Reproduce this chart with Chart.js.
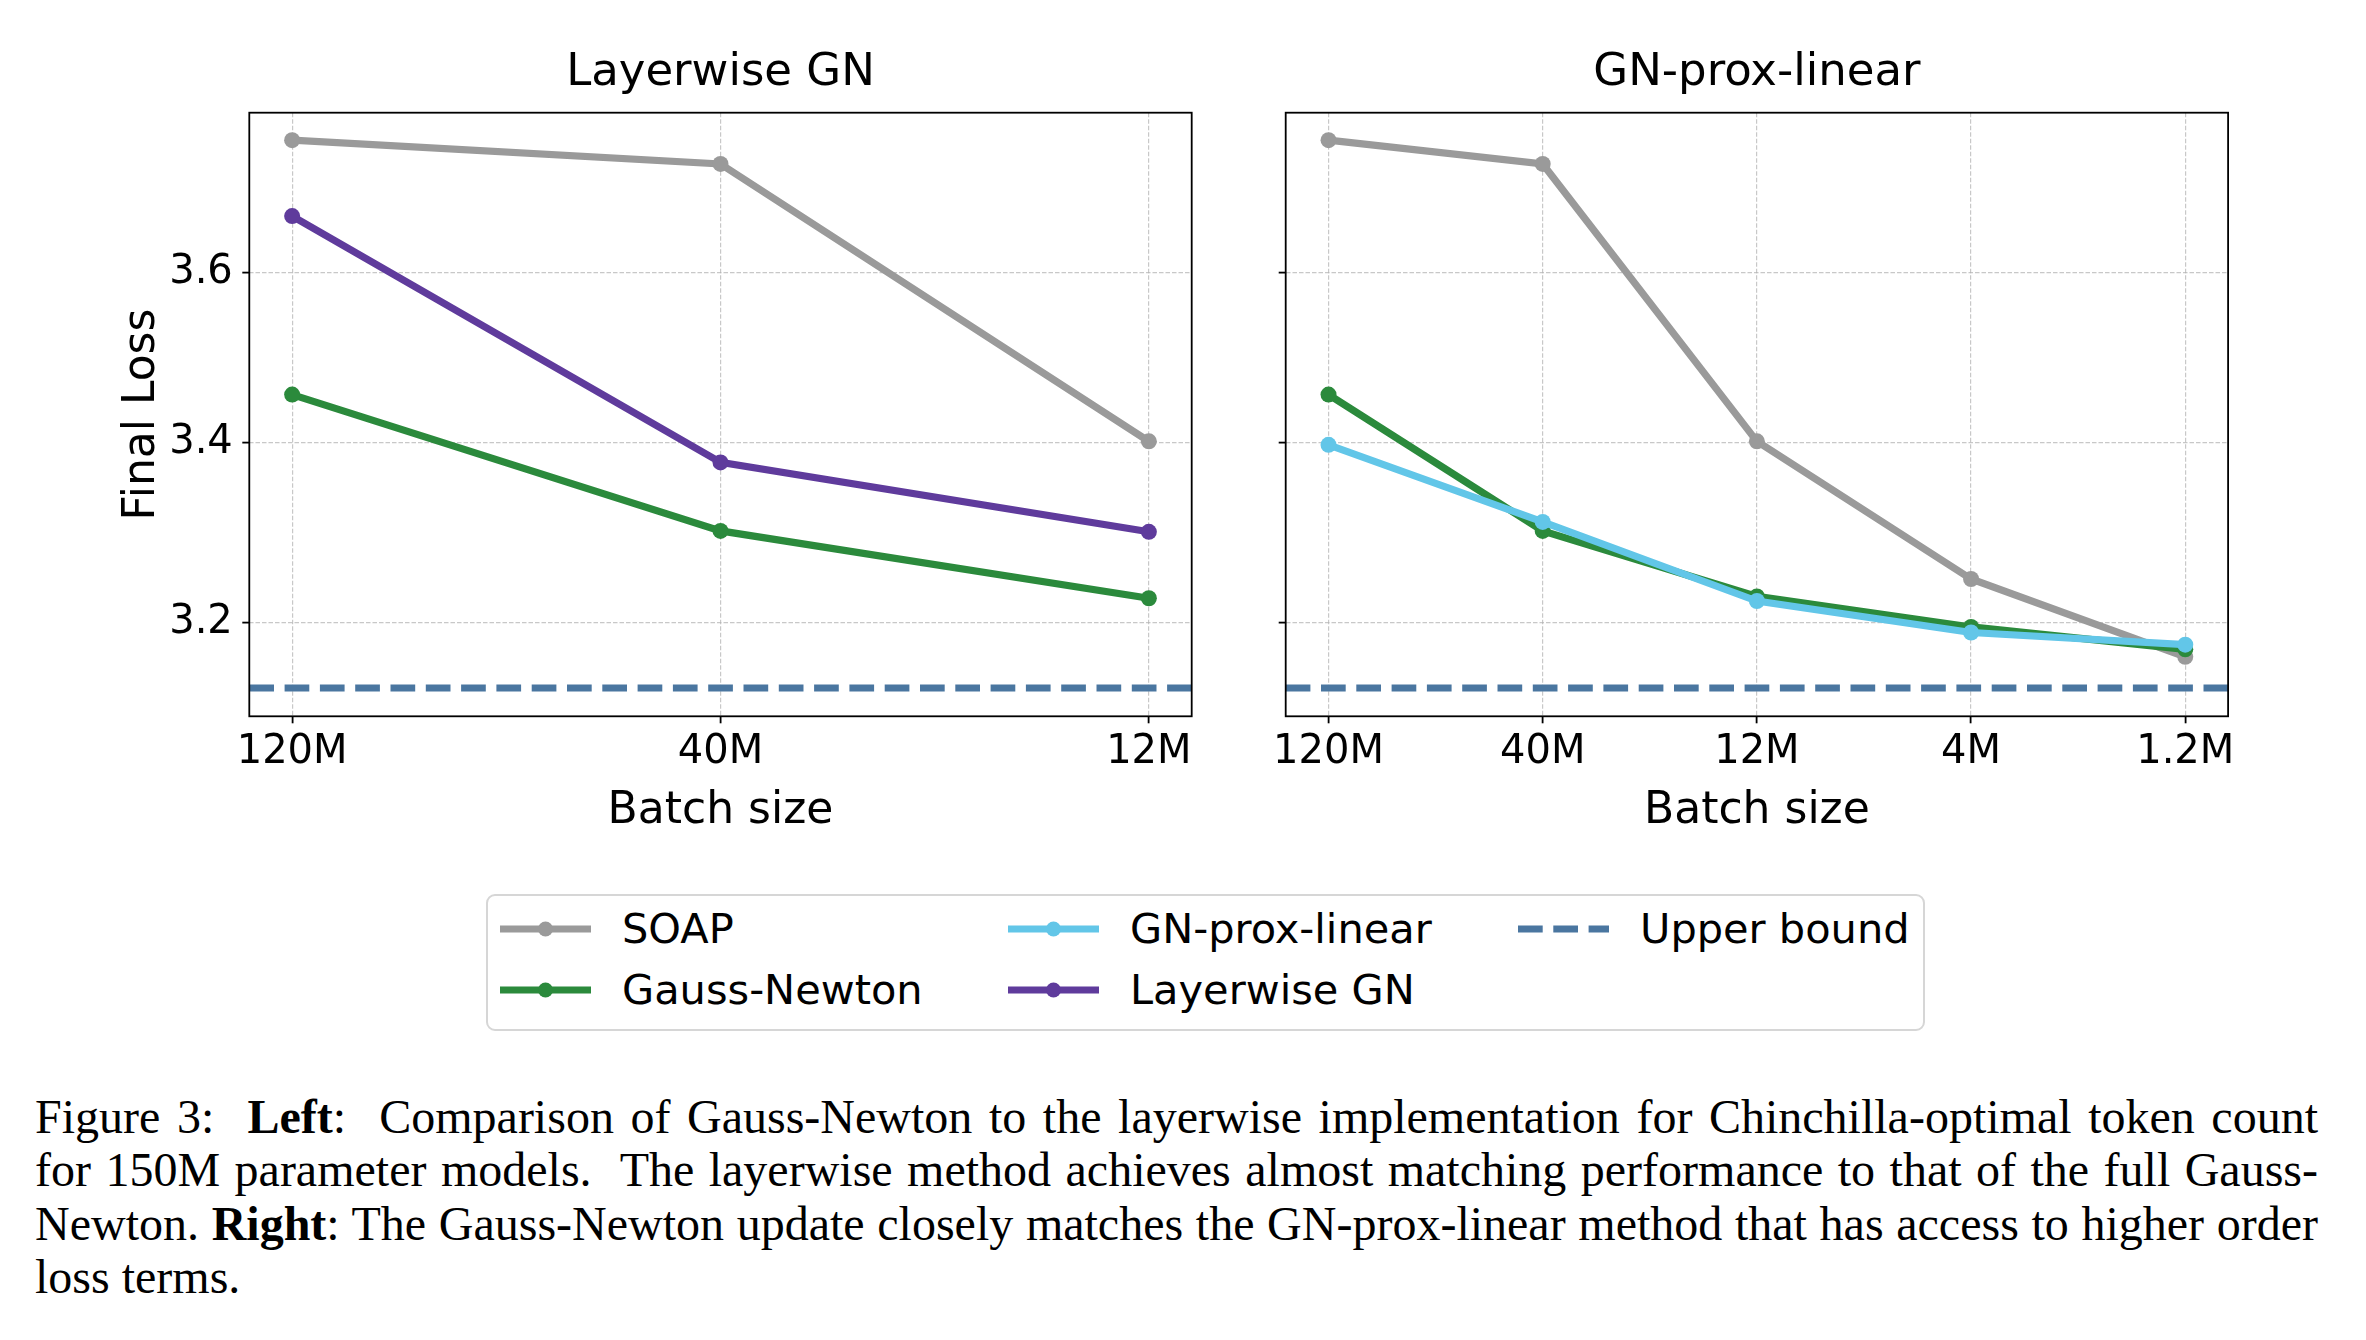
<!DOCTYPE html>
<html>
<head>
<meta charset="utf-8">
<script src="https://cdn.jsdelivr.net/npm/chart.js@4.4.1/dist/chart.umd.min.js"></script>
<style>
  body { margin: 0; background: #fff; }
  #page { position: relative; width: 2366px; height: 1340px; overflow: hidden; background: #fff; }
  canvas { position: absolute; top: 0; }
  #leftChart { left: 0; }
  #rightChart { left: 1240px; }
  #legendBox {
    position: absolute; left: 486px; top: 894px; width: 1435px; height: 133px;
    border: 2px solid #d6d6d6; border-radius: 9px; box-sizing: content-box;
  }
  .legendItem {
    position: absolute; height: 50px; display: flex; align-items: center;
    font-family: "DejaVu Sans", sans-serif; font-size: 41.5px; color: #000; white-space: nowrap;
  }
  .legendItem svg { display: block; }
  #caption {
    position: absolute; left: 35px; top: 1090px; width: 2283px;
    font-family: "Liberation Serif", "Times New Roman", serif; font-size: 48px; color: #000;
  }
  .capLine { height: 53.3px; line-height: 53.3px; white-space: nowrap; }
  .capLine span { display: inline-block; }
</style>
</head>
<body>
<div id="page">
  <canvas id="leftChart" width="1240" height="860"></canvas>
  <canvas id="rightChart" width="1126" height="860"></canvas>
  <div id="legendBox"></div>
  <div id="caption">
    <div class="capLine"><span>Figure 3:&nbsp; <b>Left</b>:&nbsp; Comparison of Gauss-Newton to the layerwise implementation for Chinchilla-optimal token count</span></div>
    <div class="capLine"><span>for 150M parameter models.&nbsp; The layerwise method achieves almost matching performance to that of the full Gauss-</span></div>
    <div class="capLine"><span>Newton. <b>Right</b>: The Gauss-Newton update closely matches the GN-prox-linear method that has access to higher order</span></div>
    <div class="capLine last"><span>loss terms.</span></div>
  </div>
</div>
<script>
// batch sizes (largest first, as on the axis)
const leftLabels = ['120M', '40M', '12M'];
const rightLabels = ['120M', '40M', '12M', '4M', '1.2M'];

// final loss
const soapLeft = [3.764, 3.734, 3.401];
const gaussNewtonLeft = [3.455, 3.300, 3.226];
const layerwiseLeft = [3.669, 3.377, 3.299];

const soapRight = [3.764, 3.734, 3.401, 3.247, 3.163];
const gaussNewtonRight = [3.455, 3.300, 3.228, 3.195, 3.171];
const proxLinearRight = [3.397, 3.310, 3.223, 3.189, 3.176];

const upperBound = 3.13;
const yTicks = [3.2, 3.4, 3.6];
const yMin = 3.1003, yMax = 3.799;

const COLORS = {
  soap: '#9a9a9a',
  gaussNewton: '#2b8a3c',
  proxLinear: '#62c6e8',
  layerwise: '#5f3b9c',
  upper: '#4a76a0'
};

const legendItems = [
  { name: 'SOAP', color: COLORS.soap },
  { name: 'Gauss-Newton', color: COLORS.gaussNewton },
  { name: 'GN-prox-linear', color: COLORS.proxLinear },
  { name: 'Layerwise GN', color: COLORS.layerwise },
  { name: 'Upper bound', color: COLORS.upper, dashed: true }
];

const FONT = '"DejaVu Sans", sans-serif';
const DASH = [24.7, 10.6];
const GRID_COLOR = 'rgba(176,176,176,0.7)';

const framePlugin = {
  id: 'frame',
  afterDraw(chart) {
    const { ctx, chartArea: a } = chart;
    ctx.save();
    ctx.strokeStyle = '#000';
    ctx.lineWidth = 1.8;
    ctx.strokeRect(a.left, a.top, a.right - a.left, a.bottom - a.top);
    ctx.restore();
  }
};

function lineSeries(label, values, color) {
  return {
    label: label,
    data: values.map((v, i) => ({ x: i, y: v })),
    borderColor: color,
    backgroundColor: color,
    borderWidth: 7.2,
    pointRadius: 8,
    pointBorderWidth: 0,
    pointBackgroundColor: color,
    tension: 0
  };
}

function upperSeries(xMin, xMax) {
  return {
    label: 'Upper bound',
    data: [{ x: xMin, y: upperBound }, { x: xMax, y: upperBound }],
    borderColor: COLORS.upper,
    borderWidth: 6.8,
    borderDash: DASH,
    pointRadius: 0,
    tension: 0
  };
}

function gridOpts() {
  return {
    color: GRID_COLOR,
    lineWidth: 1.2,
    tickLength: 7,
    tickColor: '#000',
    tickWidth: 1.8,
    tickBorderDash: []
  };
}

function drawPanel(canvasId, title, labels, datasets, cfg) {
  const ctx = document.getElementById(canvasId).getContext('2d');
  const margin = (labels.length - 1) * 0.05;
  const xMin = -margin, xMax = labels.length - 1 + margin;
  datasets.push(upperSeries(xMin, xMax));
  // later series sit on top, like matplotlib
  datasets.forEach((d, i) => { d.order = datasets.length - i; });

  return new Chart(ctx, {
    type: 'line',
    data: { datasets: datasets },
    plugins: [framePlugin],
    options: {
      responsive: false,
      animation: false,
      layout: { padding: { left: 0, right: cfg.padRight, top: 0, bottom: 0 } },
      plugins: {
        legend: { display: false },
        tooltip: { enabled: false },
        title: {
          display: true,
          text: title,
          fullSize: false,
          color: '#000',
          font: { family: FONT, size: 45, weight: 'normal' },
          padding: { top: 46, bottom: 12.7 }
        }
      },
      scales: {
        x: {
          type: 'linear',
          min: xMin,
          max: xMax,
          afterBuildTicks: (scale) => { scale.ticks = labels.map((_, i) => ({ value: i })); },
          afterFit: (scale) => { scale.height = 143.7; },
          ticks: {
            callback: (v) => labels[v],
            color: '#000',
            font: { family: FONT, size: 40 },
            padding: 5,
            maxRotation: 0,
            autoSkip: false
          },
          grid: gridOpts(),
          border: { display: false, dash: [4.5, 2] },
          title: {
            display: true,
            text: 'Batch size',
            color: '#000',
            font: { family: FONT, size: 44 },
            padding: { top: 0, bottom: 22 }
          }
        },
        y: {
          type: 'logarithmic',
          min: yMin,
          max: yMax,
          afterBuildTicks: (scale) => { scale.ticks = yTicks.map(v => ({ value: v })); },
          afterFit: (scale) => { scale.width = cfg.yWidth; },
          ticks: {
            callback: (v) => cfg.showY ? v.toFixed(1) : '',
            color: '#000',
            font: { family: FONT, size: 40 },
            padding: 9.5,
            autoSkip: false
          },
          grid: gridOpts(),
          border: { display: false, dash: [4.5, 2] },
          title: {
            display: cfg.showY,
            text: 'Final Loss',
            color: '#000',
            font: { family: FONT, size: 44 },
            padding: { top: 116, bottom: 0 }
          }
        }
      }
    }
  });
}

drawPanel('leftChart', 'Layerwise GN', leftLabels, [
  lineSeries('SOAP', soapLeft, COLORS.soap),
  lineSeries('Gauss-Newton', gaussNewtonLeft, COLORS.gaussNewton),
  lineSeries('Layerwise GN', layerwiseLeft, COLORS.layerwise)
], { yWidth: 249.3, padRight: 48.3, showY: true });

drawPanel('rightChart', 'GN-prox-linear', rightLabels, [
  lineSeries('SOAP', soapRight, COLORS.soap),
  lineSeries('Gauss-Newton', gaussNewtonRight, COLORS.gaussNewton),
  lineSeries('GN-prox-linear', proxLinearRight, COLORS.proxLinear)
], { yWidth: 45.7, padRight: 137.9, showY: false });

// figure legend, 3 columns filled column by column
function renderLegend() {
  const colX = [500, 1008, 1518];
  const rowY = [928.5, 989.5];
  const page = document.getElementById('page');
  legendItems.forEach((item, i) => {
    const col = Math.floor(i / 2), row = i % 2;
    const div = document.createElement('div');
    div.className = 'legendItem';
    div.style.left = colX[col] + 'px';
    div.style.top = (rowY[row] - 25) + 'px';
    let handle;
    if (item.dashed) {
      handle = `<line x1="0" y1="10" x2="91" y2="10" stroke="${item.color}" stroke-width="6.8" stroke-dasharray="${DASH.join(' ')}"/>`;
    } else {
      handle = `<line x1="0" y1="10" x2="91" y2="10" stroke="${item.color}" stroke-width="6.8"/>` +
               `<circle cx="45.5" cy="10" r="7.5" fill="${item.color}"/>`;
    }
    div.innerHTML = `<svg width="91" height="20">${handle}</svg><span style="margin-left:31px">${item.name}</span>`;
    page.appendChild(div);
  });
}
renderLegend();

// justify caption lines to the text block width
function justifyCaption() {
  const width = 2283;
  document.querySelectorAll('.capLine').forEach(line => {
    if (line.classList.contains('last')) return;
    const span = line.querySelector('span');
    const spaces = (span.textContent.match(/[ \u00a0]/g) || []).length;
    const extra = width - span.getBoundingClientRect().width;
    if (spaces > 0) span.style.wordSpacing = (extra / spaces) + 'px';
  });
}
justifyCaption();
</script>
</body>
</html>
